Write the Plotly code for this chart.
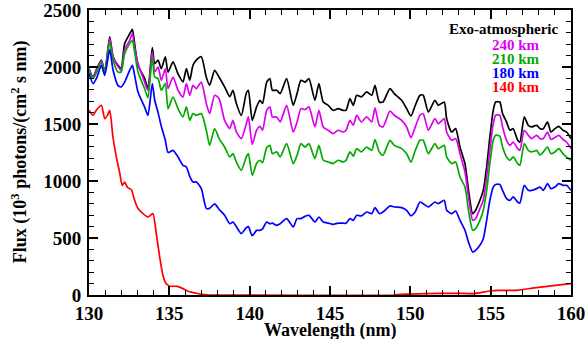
import plotly.graph_objects as go

wl = [130.0, 130.25, 130.5, 130.77, 130.98, 131.29, 131.5, 131.8, 132.0, 132.22, 132.53, 132.7, 132.84, 133.05,
      133.46, 133.67, 133.94, 134.09, 134.3, 134.5, 134.75, 134.92, 135.23, 135.54, 135.85, 136.06, 136.27, 136.47,
      136.68, 136.99, 137.3, 137.51, 137.82, 138.1, 138.44, 138.76, 138.96, 139.17, 139.48, 139.79, 139.92, 140.16,
      140.43, 140.64, 140.8, 141.06, 141.26, 141.41, 141.68, 141.9, 142.3, 142.71, 142.95, 143.19, 143.45, 143.69,
      144.06, 144.31, 144.58, 144.89, 145.2, 145.5, 145.82, 146.0, 146.24, 146.45, 146.66, 146.95, 147.28, 147.6,
      147.8, 148.07, 148.3, 148.73, 149.0, 149.46, 149.77, 150.04, 150.3, 150.6, 150.8, 151.12, 151.53, 151.74,
      152.11, 152.26, 152.57, 152.82, 153.09, 153.4, 153.65, 153.88, 154.06, 154.33, 154.54, 154.75, 154.95, 155.16,
      155.31, 155.57, 155.74, 155.99, 156.2, 156.4, 156.68, 156.82, 157.09, 157.34, 157.55, 157.86, 158.07, 158.28,
      158.54, 158.75, 159.0, 159.24, 159.5, 159.72, 160.0]

exo = [1985, 1912, 1990, 2060, 1960, 2265, 2090, 2015, 1990, 2205, 2290, 2330, 2205, 2015,
       1900, 1810, 2170, 2030, 2060, 1985, 2090, 1955, 2045, 1940, 1870, 1985, 1885, 2015,
       2060, 2090, 1910, 1840, 1970, 1910, 1825, 1740, 1795, 1680, 1575, 1770, 1796, 1532,
       1650, 1708, 1680, 1868, 1898, 1796, 1796, 1767, 1898, 1664, 1767, 1883, 1868, 1898,
       1708, 1854, 1693, 1664, 1620, 1635, 1620, 1620, 1723, 1664, 1752, 1737, 1781, 1752,
       1839, 1693, 1693, 1811, 1767, 1708, 1635, 1570, 1660, 1752, 1752, 1605, 1708, 1664,
       1693, 1547, 1430, 1459, 1298, 1153, 889, 714, 743, 831, 918, 1123, 1386, 1620,
       1693, 1693, 1591, 1518, 1445, 1459, 1357, 1342, 1562, 1489, 1474, 1489, 1459, 1459,
       1518, 1430, 1459, 1479, 1445, 1430, 1372]

km240 = [1980, 1905, 1985, 2055, 1955, 2250, 2080, 2005, 1971, 2150, 2234, 2293, 2170, 2030,
         1868, 1796, 2132, 1956, 2000, 1883, 1986, 1811, 1912, 1796, 1737, 1854, 1752, 1839,
         1811, 1868, 1679, 1591, 1752, 1722, 1532, 1460, 1532, 1430, 1372, 1500, 1562, 1320,
         1445, 1479, 1445, 1620, 1650, 1562, 1562, 1518, 1664, 1430, 1518, 1635, 1627, 1650,
         1474, 1620, 1474, 1445, 1415, 1445, 1430, 1445, 1532, 1489, 1577, 1518, 1562, 1518,
         1642, 1489, 1474, 1613, 1577, 1532, 1474, 1380, 1470, 1577, 1591, 1445, 1547, 1503,
         1547, 1430, 1357, 1372, 1240, 1079, 831, 655, 670, 758, 831, 1035, 1269, 1503,
         1577, 1577, 1474, 1357, 1313, 1342, 1284, 1269, 1445, 1401, 1372, 1401, 1372, 1372,
         1430, 1364, 1381, 1401, 1364, 1342, 1284]

km210 = [1970, 1898, 1960, 2044, 1956, 2220, 2059, 1956, 1956, 2117, 2205, 2234, 2132, 1956,
         1811, 1731, 2088, 1912, 1898, 1796, 1854, 1635, 1737, 1635, 1562, 1650, 1532, 1591,
         1576, 1591, 1445, 1313, 1460, 1372, 1298, 1211, 1240, 1167, 1094, 1211, 1240, 1050,
         1153, 1182, 1160, 1293, 1313, 1240, 1255, 1211, 1328, 1153, 1226, 1328, 1298, 1328,
         1196, 1313, 1182, 1167, 1153, 1182, 1167, 1182, 1255, 1218, 1284, 1255, 1298, 1269,
         1364, 1255, 1226, 1357, 1313, 1284, 1240, 1165, 1265, 1357, 1357, 1240, 1328, 1284,
         1313, 1211, 1153, 1167, 1035, 947, 714, 568, 582, 655, 743, 918, 1153, 1357,
         1401, 1393, 1298, 1211, 1182, 1211, 1153, 1138, 1328, 1269, 1255, 1269, 1226, 1255,
         1298, 1240, 1255, 1284, 1240, 1211, 1182]

km180 = [1942, 1854, 1912, 2015, 1927, 2152, 1971, 1839, 1825, 1868, 1971, 2015, 1927, 1781,
         1649, 1576, 1854, 1708, 1600, 1480, 1357, 1250, 1269, 1211, 1138, 1123, 1040, 991,
         991, 933, 760, 760, 800, 750, 700, 625, 640, 600, 539, 590, 600, 520,
         567, 567, 580, 640, 625, 630, 611, 625, 670, 597, 670, 670, 690, 699,
         640, 684, 640, 630, 620, 630, 630, 630, 670, 655, 699, 693, 728, 714,
         766, 714, 728, 781, 772, 766, 743, 695, 728, 816, 801, 772, 816, 801,
         831, 743, 714, 737, 655, 568, 451, 377, 392, 436, 494, 655, 831, 947,
         970, 970, 918, 845, 831, 860, 816, 807, 962, 918, 918, 933, 947, 918,
         977, 933, 947, 977, 962, 962, 918]

wl_140 = [130.0, 130.25, 130.45, 130.77, 130.98, 131.15, 131.29, 131.49, 131.7, 131.9, 132.07, 132.22, 132.4,
          132.63, 132.84, 133.05, 133.36, 133.67, 133.82, 133.98, 134.19, 134.4, 134.6, 134.8, 135.0, 135.5,
          135.85, 136.16, 136.6, 137.0, 137.5, 149.0, 149.77, 151.0, 152.88, 153.9, 154.95, 155.5, 156.6,
          157.85, 158.9, 160.0]
km140 = [1620, 1576, 1620, 1664, 1547, 1576, 1620, 1386, 1211, 1079, 962, 991, 943,
         925, 831, 758, 714, 684, 699, 714, 539, 333, 173, 100, 79, 75,
         56, 33, 18, 5, 0, 0, 8, 12, 15, 12, 35, 40, 41,
         65, 82, 100]

series = [
    ("Exo-atmospheric", wl, exo, "black"),
    ("240 km", wl, km240, "#dd00ee"),
    ("210 km", wl, km210, "#00aa00"),
    ("180 km", wl, km180, "#0000ff"),
    ("140 km", wl_140, km140, "#ff0000"),
]

fig = go.Figure()
for name, x, y, c in series:
    fig.add_trace(go.Scatter(x=x, y=y, mode="lines", name=name,
                             line=dict(color=c, width=1.7, shape="spline", smoothing=0.6),
                             showlegend=False))

serif = "Times New Roman, Liberation Serif, DejaVu Serif, serif"
axis_common = dict(
    showline=True, linecolor="black", linewidth=2, mirror="allticks",
    ticks="inside", tickcolor="black", tickwidth=1.5, ticklen=9,
    showgrid=False, zeroline=False, automargin=False, ticklabeloverflow="allow",
    tickfont=dict(family=serif, size=19, color="black", weight=700),
)
fig.update_xaxes(range=[130, 160], dtick=5, tick0=130, ticklabelstandoff=0,
                 minor=dict(dtick=1, ticks="inside", ticklen=5, tickcolor="black", tickwidth=1.2),
                 **axis_common)
fig.update_yaxes(range=[0, 2500], dtick=500, tick0=0, ticklabelstandoff=2,
                 minor=dict(dtick=100, ticks="inside", ticklen=5, tickcolor="black", tickwidth=1.2),
                 **axis_common)

L, R, T, B = 89, 571, 10, 294.7
W, H = R - L, B - T

# axis titles
fig.add_annotation(text="Wavelength (nm)", xref="paper", yref="paper",
                   x=(330 - L) / W, y=(B - 330) / H, xanchor="center", yanchor="middle",
                   showarrow=False, font=dict(family=serif, size=18, color="black", weight=700))
fig.add_annotation(text="Flux (10<sup>3</sup> photons/(cm<sup>2</sup> s nm)", xref="paper", yref="paper",
                   x=(20 - L) / W, y=(B - 152) / H, xanchor="center", yanchor="middle", textangle=-90,
                   showarrow=False, font=dict(family=serif, size=18, color="black", weight=700))

labels = [("Exo-atmospheric", "black", 560, 29, "right"),
          ("240 km", "#dd00ee", 490, 45, "left"),
          ("210 km", "#00aa00", 490, 59, "left"),
          ("180 km", "#0000ff", 490, 73, "left"),
          ("140 km", "#ff0000", 490, 87, "left")]
for text, c, px, py, anc in labels:
    fig.add_annotation(text=text, xref="paper", yref="paper",
                       x=(px - L) / W, y=(B - py) / H,
                       xanchor=anc, yanchor="middle", showarrow=False,
                       font=dict(family=serif, size=15, color=c, weight=700))

fig.update_layout(width=586, height=339,
                  font=dict(family=serif),
                  margin=dict(l=L, r=586 - R, t=T, b=339 - B),
                  paper_bgcolor="white", plot_bgcolor="white")
fig.write_html("out.html")
